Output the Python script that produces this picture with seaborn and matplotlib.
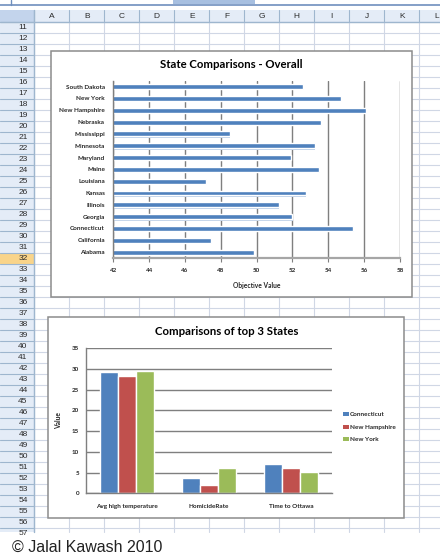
import matplotlib
matplotlib.use("Agg")
import matplotlib.pyplot as plt
import matplotlib.patheffects as pe
from matplotlib.patches import Rectangle, Patch
import seaborn as sns
import pandas as pd

# ---- data ----
states = ["South Dakota", "New York", "New Hampshire", "Nebraska", "Mississippi",
          "Minnesota", "Maryland", "Maine", "Louisiana", "Kansas", "Illinois",
          "Georgia", "Connecticut", "California", "Alabama"]
objective = [52.6, 54.7, 56.1, 53.6, 48.5, 53.25, 51.9, 53.5, 47.15,
             52.75, 51.25, 52.0, 55.4, 47.45, 49.85]

measures = ["Avg high temperature", "HomicideRate", "Time to Ottawa"]
top3 = ["Connecticut", "New Hampshire", "New York"]
connecticut = [29.4, 3.7, 7.1]
new_hampshire = [28.2, 2.0, 6.1]
new_york = [29.6, 6.1, 5.15]

sheet_cols = list("ABCDEFGHIJKL")
sheet_rows = list(range(11, 58))
selected_row = 32

W, H = 440, 553
blue, red, green = "#4f81bd", "#c0504d", "#9bbb59"
axis_grey = "#7f7f7f"

sns.set_theme(style="white")
plt.rcParams["font.family"] = ["Lato", "DejaVu Sans"]

fig = plt.figure(figsize=(W / 100, H / 100), dpi=100)


def px_rect(x0, y0, x1, y1):
    # pixel box (top-left origin) -> figure fraction rect
    return [x0 / W, 1 - y1 / H, (x1 - x0) / W, (y1 - y0) / H]


# ---- spreadsheet background ----
bg = fig.add_axes([0, 0, 1, 1])
bg.set_xlim(0, W)
bg.set_ylim(H, 0)
bg.axis("off")

col_x0, col_w = 34.3, 35.0
row_y0, row_h = 22.0, 11.0
grid_bottom = 531.5

clip = Rectangle((0, 0), W, grid_bottom, transform=bg.transData)

bg.add_patch(Rectangle((0, 10), W, 12, fc="#e4ecf7", ec="none", zorder=0))
bg.add_patch(Rectangle((0, row_y0), col_x0, grid_bottom - row_y0, fc="#e4ecf7", ec="none", zorder=0))
bg.add_patch(Rectangle((0, 10), col_x0, 12, fc="#c3d4ec", ec="none", zorder=0))
sel_top = row_y0 + (selected_row - sheet_rows[0]) * row_h
bg.add_patch(Rectangle((0, sel_top), col_x0, row_h, fc="#f9d48a", ec="none", zorder=0))
bg.plot([0, W], [4.5, 4.5], color="#6f8fbd", lw=1.2)
bg.add_patch(Rectangle((173, 0), 82, 4, fc="#a7bfe0", ec="none"))
bg.plot([11, 11], [0, 4.5], color="#6f8fbd", lw=1)

for i in range(len(sheet_cols) + 1):
    x = col_x0 + i * col_w
    bg.plot([x, x], [10, 22], color="#9eb6ce", lw=0.8)
    bg.plot([x, x], [22, grid_bottom], color="#d0d7e5", lw=0.8)
for i in range(len(sheet_rows)):
    y = row_y0 + i * row_h
    bg.plot([0, col_x0], [y, y], color="#9eb6ce", lw=0.8)
    bg.plot([col_x0, W], [y, y], color="#d0d7e5", lw=0.8)
bg.plot([0, W], [22, 22], color="#9eb6ce", lw=1)
bg.plot([col_x0, col_x0], [10, grid_bottom], color="#9eb6ce", lw=1)

for i, c in enumerate(sheet_cols):
    bg.text(col_x0 + (i + 0.5) * col_w, 16.5, c, ha="center", va="center",
            fontsize=6, color="#2b2b2b", family="Liberation Sans")
for i, r in enumerate(sheet_rows):
    t = bg.text(23, row_y0 + (i + 0.5) * row_h, str(r), ha="center", va="center",
                fontsize=6, color="#2b2b2b", family="Liberation Sans")
    t.set_clip_path(clip)

bg.text(12, 551.5, "\u00a9 Jalal Kawash 2010", ha="left", va="baseline",
        fontsize=11.5, color="#222222", family="Liberation Sans")

# chart frames
bg.add_patch(Rectangle((51, 51), 361, 246, fc="white", ec="#8c8c8c", lw=1.1, zorder=3))
bg.add_patch(Rectangle((48.3, 317.3), 355.7, 200.7, fc="white", ec="#8c8c8c", lw=1.1, zorder=3))

# ---- chart 1: horizontal bars ----
ax1 = fig.add_axes(px_rect(113.3, 80.7, 400, 258))
ax1.patch.set_alpha(0)
sns.barplot(x=objective, y=states, orient="h", color=blue, saturation=1,
            width=0.42, errorbar=None, ax=ax1)
for bar in ax1.patches:
    bar.set_path_effects([pe.SimplePatchShadow(offset=(0.3, -1.0), shadow_rgbFace="#b9cde5", alpha=1),
                          pe.Normal()])
ax1.set_xlim(42, 58)
ax1.set_xticks(range(42, 59, 2))
ax1.grid(axis="x", color=axis_grey, lw=1.0, snap=True)
ax1.set_axisbelow(True)
for s in ["top", "right"]:
    ax1.spines[s].set_visible(False)
ax1.spines["left"].set_color(axis_grey)
ax1.spines["left"].set_linewidth(1.0)
ax1.spines["bottom"].set_color("#a6a6a6")
ax1.spines["bottom"].set_linewidth(1.6)
ax1.tick_params(axis="x", direction="out", length=3, width=0.8, color=axis_grey,
                labelsize=4.5, pad=4, bottom=True)
ax1.tick_params(axis="y", length=0, labelsize=4.6, pad=6)
for lab in ax1.get_xticklabels() + ax1.get_yticklabels():
    lab.set_fontweight("bold")
ax1.set_xlabel("Objective Value", fontsize=4.8, fontweight="bold", labelpad=7)
ax1.set_ylabel("")
fig.text(231.7 / W, 1 - 65 / H, "State Comparisons - Overall", ha="center", va="center",
         fontsize=8.2, fontweight="bold", color="black")

# ---- chart 2: grouped bars ----
df = pd.DataFrame({
    "measure": measures * 3,
    "state": [s for s in top3 for _ in measures],
    "value": connecticut + new_hampshire + new_york,
})
ax2 = fig.add_axes(px_rect(86.3, 348.3, 332, 493.3))
ax2.patch.set_alpha(0)
sns.barplot(data=df, x="measure", y="value", hue="state", palette=[blue, red, green],
            saturation=1, width=0.66, errorbar=None, ax=ax2, legend=False)
ax2.set_ylim(0, 35)
ax2.set_yticks(range(0, 36, 5))
ax2.grid(axis="y", color=axis_grey, lw=1.0, snap=True)
ax2.set_axisbelow(True)
for s in ["top", "right"]:
    ax2.spines[s].set_visible(False)
for s in ["left", "bottom"]:
    ax2.spines[s].set_color(axis_grey)
    ax2.spines[s].set_linewidth(1.0)
ax2.tick_params(axis="y", length=0, labelsize=4.5, pad=5)
ax2.tick_params(axis="x", length=0, labelsize=4.6, pad=8)
for lab in ax2.get_xticklabels() + ax2.get_yticklabels():
    lab.set_fontweight("bold")
ax2.set_xlabel("")
ax2.set_ylabel("Value", fontsize=4.8, fontweight="bold")
ax2.yaxis.set_label_coords(-0.1, 0.5)
fig.text(226.7 / W, 1 - 331.7 / H, "Comparisons of top 3 States", ha="center", va="center",
         fontsize=8.2, fontweight="bold", color="black")

handles = [Patch(fc=c, ec="none") for c in [blue, red, green]]
leg = ax2.legend(handles, top3, loc="upper left", bbox_to_anchor=(342.5 / W, 1 - 412 / H),
                 bbox_transform=fig.transFigure, frameon=False, fontsize=4.6,
                 handlelength=1.0, handleheight=0.7, handletextpad=0.15,
                 labelspacing=1.1, borderpad=0, borderaxespad=0)
for t in leg.get_texts():
    t.set_fontweight("bold")

fig.savefig("out.png", dpi=100)
